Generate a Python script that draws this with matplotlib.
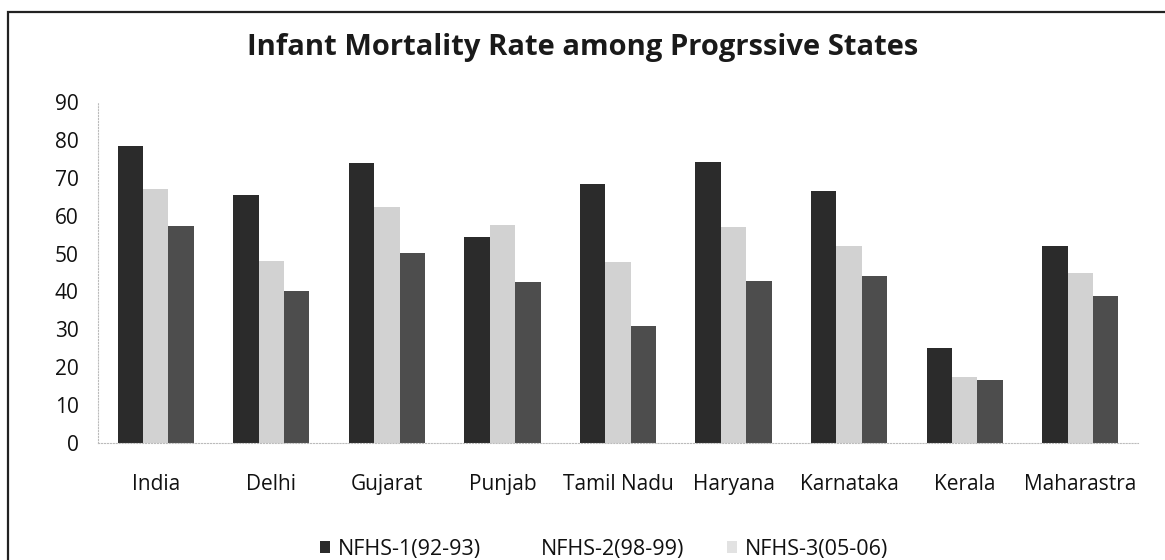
import numpy as np
import matplotlib
matplotlib.use("Agg")
import matplotlib.pyplot as plt
from matplotlib.patches import Rectangle, Patch

plt.rcParams['font.family'] = ['Open Sans', 'DejaVu Sans']

states = ["India", "Delhi", "Gujarat", "Punjab", "Tamil Nadu", "Haryana",
          "Karnataka", "Kerala", "Maharastra"]
nfhs1 = [78.5, 65.5, 74.0, 54.4, 68.4, 74.1, 66.6, 25.1, 52.0]
nfhs2 = [67.0, 48.0, 62.4, 57.5, 47.8, 57.0, 52.0, 17.5, 45.0]
nfhs3 = [57.2, 40.0, 50.1, 42.4, 31.0, 42.8, 44.2, 16.5, 38.8]
series_names = ["NFHS-1(92-93)", "NFHS-2(98-99)", "NFHS-3(05-06)"]
yticks = [0, 10, 20, 30, 40, 50, 60, 70, 80, 90]

fig = plt.figure(figsize=(11.65, 5.6), dpi=100)
ax = fig.add_axes([98/1165, 1 - 443/560, (1138 - 98)/1165, (443 - 102)/560])

x = np.arange(len(states))
w = 0.22
colors = ["#2b2b2b", "#d2d2d2", "#4d4d4d"]
for i, (vals, c) in enumerate(zip([nfhs1, nfhs2, nfhs3], colors)):
    ax.bar(x + (i - 1) * w, vals, width=w, color=c, label=series_names[i])

ax.set_xlim(-0.5, len(states) - 0.5)
ax.set_ylim(0, 90)
ax.set_yticks(yticks)
ax.set_xticks(x)
ax.set_xticklabels(states)
ax.tick_params(axis="both", length=0, labelsize=15, colors="#111111")
ax.tick_params(axis="y", pad=14)
ax.tick_params(axis="x", pad=22)
for s in ["top", "right"]:
    ax.spines[s].set_visible(False)
for s in ["left", "bottom"]:
    ax.spines[s].set_color("#bbbbbb")
    ax.spines[s].set_linestyle(":")

fig.text(0.5, 1 - 47/560, "Infant Mortality Rate among Progrssive States",
         ha="center", va="center", fontsize=21, fontweight="bold", color="#1a1a1a")

# legend swatches as they came out in the scan
handles = [Patch(facecolor="#2b2b2b"), Patch(facecolor="white"),
           Patch(facecolor="#e2e2e2")]
fig.legend(handles=handles, labels=series_names, loc="center",
           bbox_to_anchor=(604/1165, 1 - 549/560),
           ncol=3, frameon=False, fontsize=15.5, handlelength=0.47,
           handleheight=0.47, handletextpad=0.33, columnspacing=2.0,
           labelcolor="#111111")

# outer frame of the scanned figure
fig.patches.append(Rectangle((8/1165, -0.2), 1.2, 1.2 - 12/560, transform=fig.transFigure,
                             fill=False, edgecolor="#222222", lw=1.6))

fig.savefig("out.png", dpi=100)
